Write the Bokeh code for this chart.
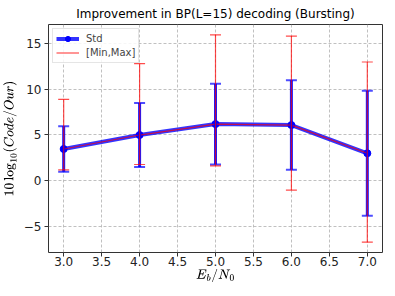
import numpy as np
from bokeh.plotting import figure
from bokeh.models import (ColumnDataSource, Whisker, TeeHead, Legend, LegendItem,
                          SingleIntervalTicker, CustomJSTickFormatter)
from bokeh.embed import file_html
from bokeh.resources import INLINE

# ---- data ----
ebn0 = [3.0, 4.0, 5.0, 6.0, 7.0]
mean_gain = [3.45, 4.98, 6.18, 6.07, 2.98]
std_gain = [2.5, 3.5, 4.42, 4.91, 6.86]
min_gain = [1.15, 1.75, 1.6, -1.06, -6.77]
max_gain = [8.88, 12.8, 15.97, 15.83, 12.99]

title_text = "Improvement in BP(L=15) decoding (Bursting)"
xlabel = r"$$E_b/N_0$$"
ylabel = r"$$10\log_{10}(Code/Our)$$"
legend_labels = ["Std", "[Min,Max]"]

FONT = "DejaVu Sans"

m = np.array(mean_gain)
s = np.array(std_gain)
src = ColumnDataSource(dict(x=ebn0, mean=mean_gain, lo=list(m - s), hi=list(m + s),
                            mn=min_gain, mx=max_gain))

p = figure(frame_width=334, frame_height=228, x_range=(2.8, 7.2), y_range=(-7.9, 17.1),
           output_backend="svg", toolbar_location=None,
           min_border_left=0, min_border_right=1, min_border_top=0, min_border_bottom=0)

p.title.text = title_text
p.title.align = "center"
p.title.text_font = FONT
p.title.text_font_size = "12px"
p.title.text_font_style = "normal"
p.title.text_color = "#000000"
p.title.standoff = 0
p.title.padding = 4

p.outline_line_color = "#333333"
p.outline_line_width = 1
p.background_fill_color = "white"
p.border_fill_color = "white"

p.xgrid.grid_line_color = "#b0b0b0"
p.ygrid.grid_line_color = "#b0b0b0"
p.xgrid.grid_line_dash = "3 2"
p.ygrid.grid_line_dash = "3 2"
p.xgrid.grid_line_width = 0.8
p.ygrid.grid_line_width = 0.8

p.xaxis.ticker = SingleIntervalTicker(interval=0.5)
p.yaxis.ticker = SingleIntervalTicker(interval=5)
p.xaxis.formatter = CustomJSTickFormatter(code="return tick.toFixed(1);")
p.yaxis.formatter = CustomJSTickFormatter(
    code="return tick < 0 ? '\u2212' + Math.abs(tick).toFixed(0) : tick.toFixed(0);")

for ax in (p.xaxis, p.yaxis):
    ax.axis_line_color = None
    ax.major_tick_line_color = "#333333"
    ax.major_tick_out = 4
    ax.major_tick_in = 0
    ax.minor_tick_line_color = None
    ax.major_label_text_font = FONT
    ax.major_label_text_font_size = "12px"
    ax.major_label_text_color = "#222222"
    ax.axis_label_text_font = FONT
    ax.axis_label_text_font_style = "normal"
    ax.axis_label_text_color = "#000000"

p.xaxis.axis_label_text_font_size = "11px"
p.yaxis.axis_label_text_font_size = "10px"
p.xaxis.major_label_standoff = 0
p.yaxis.major_label_standoff = 3
p.xaxis.axis_label_standoff = 0
p.yaxis.axis_label_standoff = 4
p.xaxis.axis_label = xlabel
p.yaxis.axis_label = ylabel

# blue std whiskers
wb = Whisker(source=src, base="x", upper="hi", lower="lo",
             line_color="#0000ff", line_width=3, line_alpha=0.9,
             upper_head=TeeHead(size=11, line_color="#0000ff", line_width=2, line_alpha=0.7),
             lower_head=TeeHead(size=11, line_color="#0000ff", line_width=2, line_alpha=0.7))
wb.level = "glyph"
p.add_layout(wb)

# red min/max whiskers
wr = Whisker(source=src, base="x", upper="mx", lower="mn",
             line_color="#ff0000", line_width=1.2, line_alpha=0.7,
             upper_head=TeeHead(size=11, line_color="#ff0000", line_width=1.2, line_alpha=0.7),
             lower_head=TeeHead(size=11, line_color="#ff0000", line_width=1.2, line_alpha=0.7))
wr.level = "glyph"
p.add_layout(wr)

bl = p.line("x", "mean", source=src, line_color="#0000ff", line_width=4, line_alpha=0.8)
bm = p.scatter("x", "mean", source=src, marker="circle", size=7,
               fill_color="#0000ff", line_color="#0000ff")
rl = p.line("x", "mean", source=src, line_color="#ff0000", line_width=1.2, line_alpha=0.7)

# legend-only glyphs (vertical bar look)
bv = p.scatter(x=[], y=[], marker="dash", angle=np.pi / 2, size=14,
               line_color="#0000ff", line_width=3)
rv = p.scatter(x=[], y=[], marker="dash", angle=np.pi / 2, size=12,
               line_color="#ff0000", line_width=1.2, line_alpha=0.7)

legend = Legend(items=[LegendItem(label=legend_labels[0], renderers=[bl, bv, bm]),
                       LegendItem(label=legend_labels[1], renderers=[rl, rv])],
                location="top_left", margin=4, padding=3, spacing=1,
                glyph_width=23, glyph_height=13, label_height=13,
                label_standoff=7,
                label_text_font=FONT, label_text_font_size="10px",
                border_line_color="#cccccc", border_line_width=1,
                background_fill_alpha=0.85)
p.add_layout(legend)

open("out.html", "w").write(file_html(p, INLINE))
